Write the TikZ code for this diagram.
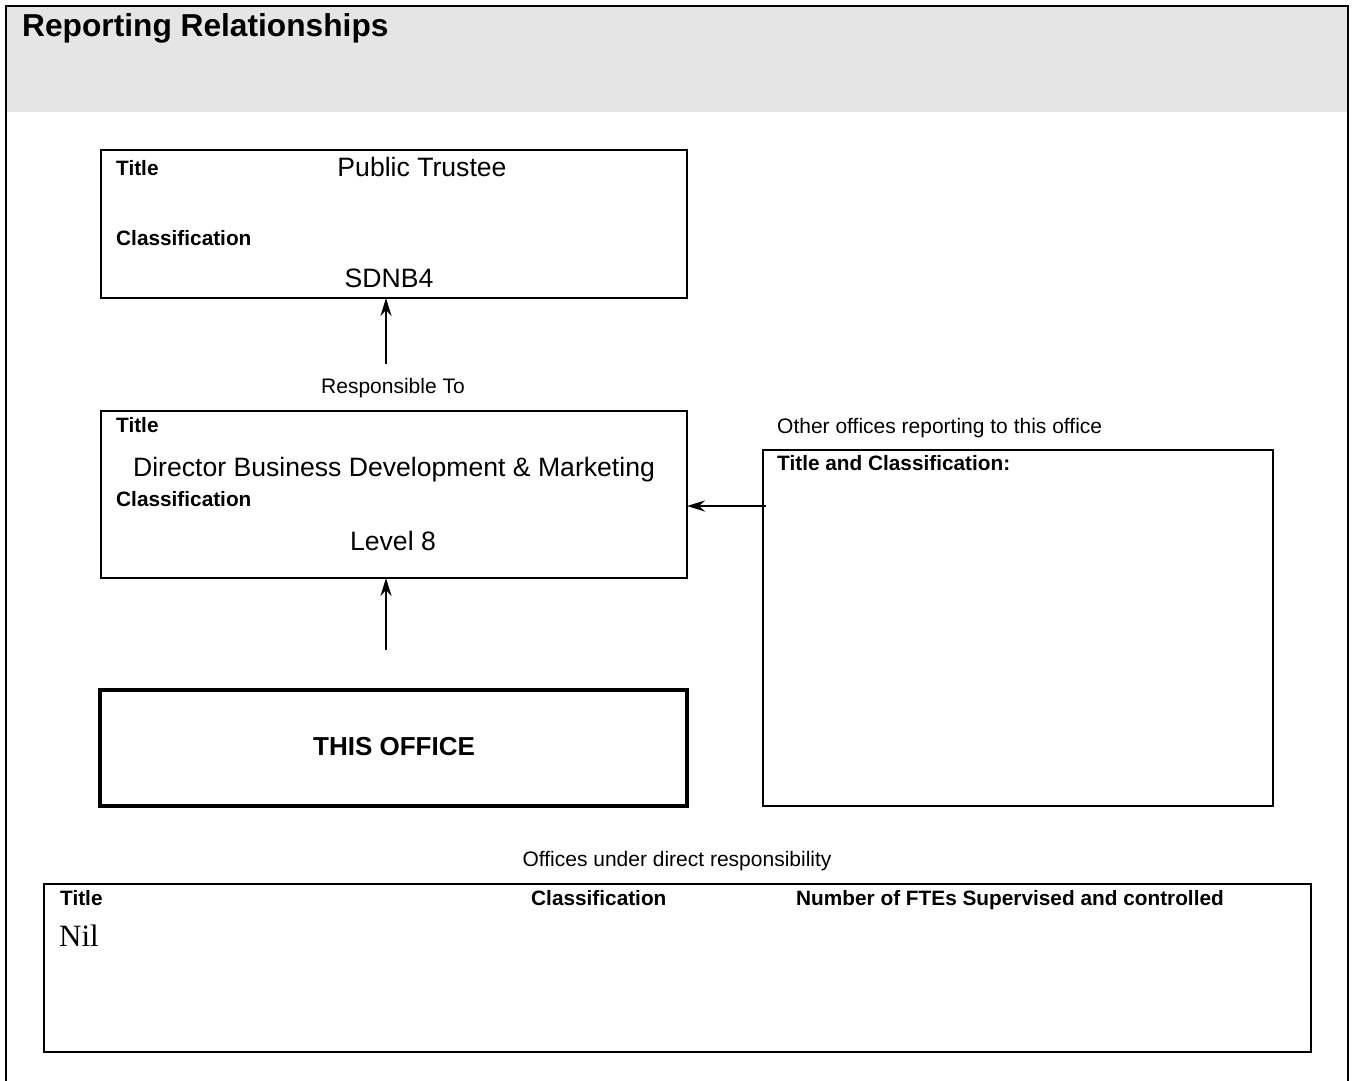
\documentclass[tikz,border=0pt]{standalone}
\usepackage{fontspec}
\setmainfont{Liberation Sans}
\newfontfamily\nilfont{Liberation Serif}
\usetikzlibrary{arrows.meta}
\definecolor{headgray}{RGB}{229,229,229}
\tikzset{
  box/.style={draw=black, line width=2.4pt, rectangle, anchor=north west, outer sep=0pt, inner sep=0pt},
  thickbox/.style={box, line width=4.2pt},
  lbl/.style={anchor=base west, inner sep=0pt, font=\bfseries\fontsize{20.8}{24}\selectfont},
  small/.style={anchor=base, inner sep=0pt, font=\fontsize{21}{24}\selectfont},
  big/.style={anchor=base, inner sep=0pt, font=\fontsize{26.6}{30}\selectfont},
  arr/.style={line width=2.6pt, -{Stealth[length=18pt, width=11pt, inset=6pt]}}
}
\begin{document}
\begin{tikzpicture}[x=1pt,y=-1pt]
\useasboundingbox (0,0) rectangle (1352,1080);
% header band and frame
\fill[headgray] (6,6) rectangle (1348,112);
\draw[line width=2.4pt] (6,1082) -- (6,6) -- (1348,6) -- (1348,1082);
\node[anchor=base west, inner sep=0pt, font=\bfseries\fontsize{31.7}{36}\selectfont] (head) at (22,36) {Reporting Relationships};

% box 1
\node[box, minimum width=586pt, minimum height=148pt] (b1) at (101,150) {};
\node[lbl] (b1t) at (116,175) {Title};
\node[big] (b1v) at (422,176) {Public Trustee};
\node[lbl] (b1c) at (116,245) {Classification};
\node[big] (b1cv) at (389,287) {SDNB4};

% responsible to
\coordinate (a1s) at (386,364);
\draw[arr] (a1s) -- (a1s |- b1.south);
\node[small] (resp) at (393,393) {Responsible To};

% box 2
\node[box, minimum width=586pt, minimum height=167pt] (b2) at (101,411) {};
\node[lbl] (b2t) at (116,432) {Title};
\node[big] (b2v) at (394,476) {Director Business Development \& Marketing};
\node[lbl] (b2c) at (116,506) {Classification};
\node[big] (b2cv) at (393,550) {Level 8};

% arrow from this office
\coordinate (a2s) at (386,650);
\draw[arr] (a2s) -- (a2s |- b2.south);

% this office
\node[thickbox, minimum width=587pt, minimum height=116pt] (b3) at (100,690) {};
\node[anchor=base, inner sep=0pt, font=\bfseries\fontsize{26}{30}\selectfont] (b3t) at (394,755) {THIS OFFICE};

% other offices
\node[anchor=base west, inner sep=0pt, font=\fontsize{21}{24}\selectfont] (othl) at (777,433) {Other offices reporting to this office};
\node[box, minimum width=510pt, minimum height=356pt] (oth) at (763,450) {};
\node[lbl] (otht) at (777,470) {Title and Classification:};
\coordinate (a3s) at (766,506);
\draw[arr] (a3s) -- (a3s -| b2.east);

% offices under direct responsibility
\node[small] (subl) at (677,866) {Offices under direct responsibility};
\node[box, minimum width=1267pt, minimum height=168pt] (sub) at (44,884) {};
\node[lbl] (subt) at (60,905) {Title};
\node[lbl] (subc) at (531,905) {Classification};
\node[lbl] (subn) at (796,905) {Number of FTEs Supervised and controlled};
\node[anchor=base west, inner sep=0pt, font=\nilfont\fontsize{31}{34}\selectfont] (nil) at (59,946) {Nil};
\end{tikzpicture}
\end{document}
